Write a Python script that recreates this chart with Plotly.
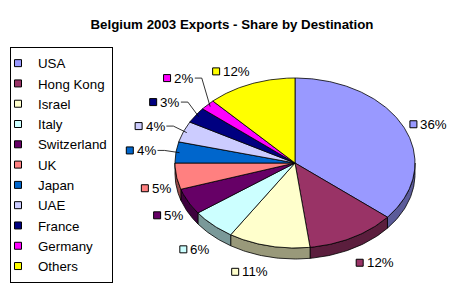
import numpy as np
import plotly.graph_objects as go

# ---- data ----
countries = ["USA", "Hong Kong", "Israel", "Italy", "Switzerland", "UK",
             "Japan", "UAE", "France", "Germany", "Others"]
shares = [36, 12, 11, 6, 5, 5, 4, 4, 3, 2, 12]
title_text = "Belgium 2003 Exports - Share by Destination"

# ---- styles ----
colors = ["#9999FF", "#993366", "#FFFFCC", "#CCFFFF", "#660066", "#FF8080",
          "#0066CC", "#CCCCFF", "#000080", "#FF00FF", "#FFFF00"]
FONT = "Liberation Sans, Arial, sans-serif"
FS = 13.3
W, H = 454, 291
CX, CY, RX, RY, DEPTH = 295, 163, 120, 85, 11


def darker(hexc, f=0.6):
    h = hexc.lstrip("#")
    r, g, b = (int(h[i:i + 2], 16) for i in (0, 2, 4))
    return "rgb(%d,%d,%d)" % (r * f, g * f, b * f)


def rim(theta_deg, k=1.0, dy=0.0):
    t = np.radians(theta_deg)
    return CX + RX * k * np.sin(t), CY - RY * k * np.cos(t) + dy


def text_w(s):
    return sum(0.889 if c == "%" else 0.556 for c in s) * FS


total = float(sum(shares))
bounds = np.concatenate([[0], np.cumsum(shares)]) / total * 360.0

fig = go.Figure()

# side walls (front half only)
for i, v in enumerate(shares):
    a, b = bounds[i], bounds[i + 1]
    lo, hi = max(a, 90), min(b, 270)
    if lo >= hi:
        continue
    th = np.linspace(lo, hi, 40)
    xs_t, ys_t = rim(th)
    xs_b, ys_b = rim(th[::-1], dy=DEPTH)
    fig.add_trace(go.Scatter(
        x=np.concatenate([xs_t, xs_b, xs_t[:1]]),
        y=np.concatenate([ys_t, ys_b, ys_t[:1]]),
        mode="lines", fill="toself", fillcolor=darker(colors[i]),
        line=dict(color="black", width=0.8), showlegend=False,
        hoverinfo="skip"))

# top faces
for i, v in enumerate(shares):
    a, b = bounds[i], bounds[i + 1]
    th = np.linspace(a, b, max(8, int((b - a) * 1.5)))
    xs, ys = rim(th)
    fig.add_trace(go.Scatter(
        x=np.concatenate([[CX], xs, [CX]]),
        y=np.concatenate([[CY], ys, [CY]]),
        mode="lines", fill="toself", fillcolor=colors[i],
        line=dict(color="black", width=0.8), showlegend=False,
        name=countries[i], hoverinfo="skip"))

# data labels
labels = []
prev_y = None
for i, v in enumerate(shares):
    mid = (bounds[i] + bounds[i + 1]) / 2
    s, c = np.sin(np.radians(mid)), np.cos(np.radians(mid))
    txt = "%d%%" % round(v / total * 100)
    bw = 7 + 2 + text_w(txt)
    leader = v / total < 0.05
    if leader:
        px, py = rim(mid, k=1.18)
        if prev_y is not None and py > prev_y - 24:
            py = prev_y - 24
        prev_y = py
        left = px - bw
        cy = py
    else:
        prev_y = None
        px = CX + (RX + 7) * s
        py = CY - (RY + 6) * c + (DEPTH if c < 0 else 0)
        if s > 0.1:
            left = px
        elif s < -0.1:
            left = px - bw
        else:
            left = px - bw / 2
        if c > 0.5:
            cy = py - 7
        elif c < -0.5:
            cy = py + 9
        else:
            cy = py
    labels.append((i, txt, left, bw, cy, leader, mid))

for i, txt, left, bw, cy, leader, mid in labels:
    if leader:
        ex, ey = rim(mid, k=0.97)
        fig.add_trace(go.Scatter(
            x=[left + bw + 3, left + bw + 10, ex], y=[cy, cy, ey],
            mode="lines", line=dict(color="black", width=0.8),
            showlegend=False, hoverinfo="skip"))

for i, txt, left, bw, cy, leader, mid in labels:
    fig.add_trace(go.Scatter(
        x=[left + 3.5], y=[cy], mode="markers", name=countries[i],
        marker=dict(symbol="square", size=7, color=colors[i],
                    line=dict(color="black", width=1)),
        showlegend=True, hoverinfo="skip"))
    fig.add_annotation(x=left + 8.5, y=cy, xref="x", yref="y", text=txt,
                       showarrow=False, xanchor="left", yanchor="middle",
                       font=dict(family=FONT, size=FS, color="black"))

fig.update_layout(
    width=W, height=H, margin=dict(l=0, r=0, t=0, b=0),
    paper_bgcolor="white", plot_bgcolor="white",
    title=dict(text="<b>%s</b>" % title_text, x=232 / W, xanchor="center",
               y=1 - 24 / H, yanchor="middle",
               font=dict(family=FONT, size=FS, color="black")),
    xaxis=dict(range=[0, W], visible=False, fixedrange=True),
    yaxis=dict(range=[H, 0], visible=False, fixedrange=True),
    legend=dict(x=10 / W, y=1 - 47 / H, xanchor="left", yanchor="top",
                bordercolor="black", borderwidth=1, bgcolor="white",
                font=dict(family=FONT, size=FS, color="black"),
                indentation=-13, itemwidth=30, traceorder="normal"),
    showlegend=True,
)

fig.write_html("out.html")
